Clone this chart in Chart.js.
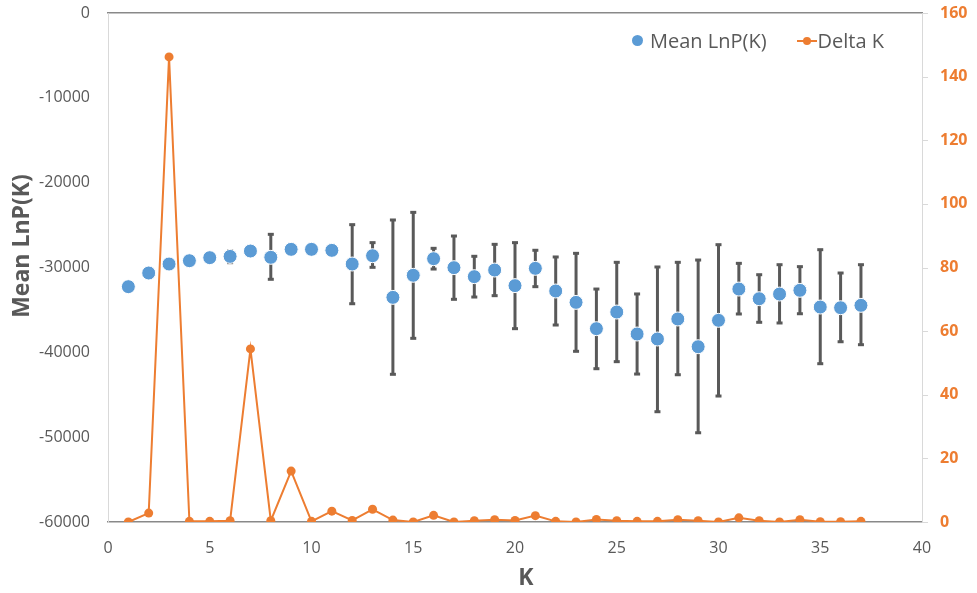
<!DOCTYPE html>
<html>
<head>
<meta charset="utf-8">
<script src="https://cdn.jsdelivr.net/npm/chart.js@4.4.0/dist/chart.umd.min.js"></script>
<style>
  body { margin: 0; background: #fff; }
  #wrap { position: relative; width: 977px; height: 593px; }
  #legend { position: absolute; top: 27px; left: 632px; font: 20px "Open Sans", sans-serif; color: #595959; display: flex; align-items: center; line-height: 27px; }
  .dot { display: inline-block; width: 11px; height: 11px; border-radius: 50%; background: #5B9BD5; margin-right: 7px; }
  .lineMark { display: inline-block; position: relative; width: 20px; height: 10px; margin: 0 1px 0 30px; }
  .lineMark::before { content: ""; position: absolute; left: 0; right: 0; top: 4px; height: 2px; background: #ED7D31; }
  .lineMark::after { content: ""; position: absolute; left: 6px; top: 1px; width: 8px; height: 8px; border-radius: 50%; background: #ED7D31; }
</style>
</head>
<body>
<div id="wrap">
  <canvas id="chart" width="977" height="593"></canvas>
  <div id="legend"><span class="dot"></span>Mean LnP(K)<span class="lineMark"></span>Delta K</div>
</div>
<script>
// Werte
const kValues = [1,2,3,4,5,6,7,8,9,10,11,12,13,14,15,16,17,18,19,20,21,22,23,24,25,26,27,28,29,30,31,32,33,34,35,36,37];

const meanLnP = [-32260,-30650,-29590,-29200,-28840,-28690,-28060,-28800,-27860,-27860,-27980,-29590,-28610,-33520,-30920,-28960,-30020,-31080,-30300,-32140,-30100,-32770,-34110,-37210,-35250,-37840,-38430,-36070,-39340,-36230,-32540,-33680,-33130,-32690,-34660,-34740,-34460];

// Fehlerbalken: obere und untere Grenze (null = kein sichtbarer Balken)
const errUpper = [null,null,null,null,null,-28020,null,-26090,null,null,null,-24950,-27070,-24400,-23500,-27740,-26290,-28680,-27270,-27070,-27970,-28760,-28330,-32540,-29390,-33120,-29940,-29390,-29120,-27310,-29510,-30850,-29670,-29900,-27900,-30650,-29670];
const errLower = [null,null,null,null,null,-29430,null,-31390,null,null,null,-34270,-29980,-42590,-38350,-30180,-33750,-33480,-33320,-37210,-32260,-36780,-39880,-41930,-41100,-42560,-47000,-42640,-49480,-45150,-35480,-36460,-36540,-35450,-41340,-38750,-39100];

const deltaK = [0,2.8,146.2,0.2,0.2,0.4,54.4,0.4,16.0,0.2,3.4,0.5,4.0,0.6,0,2.1,0,0.4,0.7,0.5,2.0,0.2,0,0.8,0.4,0.2,0.2,0.7,0.4,0,1.3,0.4,0,0.7,0.1,0.1,0.2];

const xTicks = { min: 0, max: 40, step: 5 };
const yLeftTicks = { min: -60000, max: 0, step: 10000 };
const yRightTicks = { min: 0, max: 160, step: 20 };

const yTitle = 'Mean LnP(K)';
const xTitle = 'K';

const gray = '#595959';
const blue = '#5B9BD5';
const orange = '#ED7D31';

// Zeichnet die Fehlerbalken vor den blauen Punkten
const errorBars = {
  id: 'errorBars',
  beforeDatasetDraw(chart, args) {
    if (args.index !== 0) return;
    const { ctx, scales } = chart;
    ctx.save();
    ctx.strokeStyle = gray;
    ctx.fillStyle = gray;
    ctx.lineWidth = 3;
    kValues.forEach((k, i) => {
      if (errUpper[i] === null) return;
      const x = scales.x.getPixelForValue(k);
      const yTop = scales.y.getPixelForValue(errUpper[i]);
      const yBot = scales.y.getPixelForValue(errLower[i]);
      ctx.beginPath();
      ctx.moveTo(x, yTop);
      ctx.lineTo(x, yBot);
      ctx.stroke();
      ctx.fillRect(x - 3, yTop - 1.5, 6, 3);
      ctx.fillRect(x - 3, yBot - 1.5, 6, 3);
    });
    ctx.restore();
  }
};

// Achsentitel und kleine Teilstriche der rechten Achse
const axisExtras = {
  id: 'axisExtras',
  afterDraw(chart) {
    const { ctx, scales, chartArea } = chart;
    ctx.save();
    ctx.strokeStyle = '#d9d9d9';
    ctx.lineWidth = 1;
    scales.y2.ticks.forEach(t => {
      const y = Math.round(scales.y2.getPixelForValue(t.value)) + 0.5;
      ctx.beginPath();
      ctx.moveTo(chartArea.right, y);
      ctx.lineTo(chartArea.right + 6, y);
      ctx.stroke();
    });
    ctx.fillStyle = gray;
    ctx.font = 'bold 23px "Open Sans"';
    ctx.textAlign = 'center';
    ctx.textBaseline = 'middle';
    ctx.fillText(xTitle, 526, 578);
    ctx.translate(22, 246);
    ctx.rotate(-Math.PI / 2);
    ctx.fillText(yTitle, 0, 0);
    ctx.restore();
  }
};

const noEdgePadding = scale => { scale.paddingTop = 0; scale.paddingBottom = 0; };

new Chart(document.getElementById('chart'), {
  type: 'scatter',
  data: {
    datasets: [
      {
        label: 'Mean LnP(K)',
        data: kValues.map((k, i) => ({ x: k, y: meanLnP[i] })),
        yAxisID: 'y',
        backgroundColor: blue,
        borderColor: '#ffffff',
        borderWidth: 1,
        pointRadius: 7,
        showLine: false,
        order: 0
      },
      {
        label: 'Delta K',
        data: kValues.map((k, i) => ({ x: k, y: deltaK[i] })),
        yAxisID: 'y2',
        backgroundColor: orange,
        borderColor: orange,
        borderWidth: 2,
        pointRadius: 4.5,
        pointBorderWidth: 0,
        showLine: true,
        order: 1
      }
    ]
  },
  options: {
    responsive: false,
    animation: false,
    layout: { padding: 0 },
    plugins: {
      legend: { display: false },
      tooltip: { enabled: false }
    },
    scales: {
      x: {
        type: 'linear',
        position: 'bottom',
        min: xTicks.min,
        max: xTicks.max,
        grid: { display: false },
        border: { display: true, color: '#898989', width: 1.5 },
        ticks: { stepSize: xTicks.step, color: gray, padding: 9, font: { family: 'Open Sans', size: 16 } },
        afterFit(scale) { scale.height = 71; }
      },
      xTop: {
        type: 'linear',
        position: 'top',
        min: xTicks.min,
        max: xTicks.max,
        grid: { display: false },
        border: { display: true, color: '#898989', width: 1.5 },
        ticks: { display: false },
        afterFit(scale) { scale.height = 13; }
      },
      y: {
        type: 'linear',
        position: 'left',
        min: yLeftTicks.min,
        max: yLeftTicks.max,
        grid: { display: false, tickLength: 8 },
        border: { display: true, color: '#d9d9d9', width: 1 },
        ticks: { stepSize: yLeftTicks.step, color: gray, padding: 10, font: { family: 'Open Sans', size: 16 }, callback: v => String(v) },
        afterFit(scale) { scale.width = 108; noEdgePadding(scale); }
      },
      y2: {
        type: 'linear',
        position: 'right',
        min: yRightTicks.min,
        max: yRightTicks.max,
        grid: { display: false, tickLength: 6 },
        border: { display: true, color: '#d9d9d9', width: 1 },
        ticks: { stepSize: yRightTicks.step, color: orange, padding: 12, font: { family: 'Open Sans', size: 16, weight: 'bold' } },
        afterFit(scale) { scale.width = 55; noEdgePadding(scale); }
      }
    }
  },
  plugins: [errorBars, axisExtras]
});
</script>
</body>
</html>
